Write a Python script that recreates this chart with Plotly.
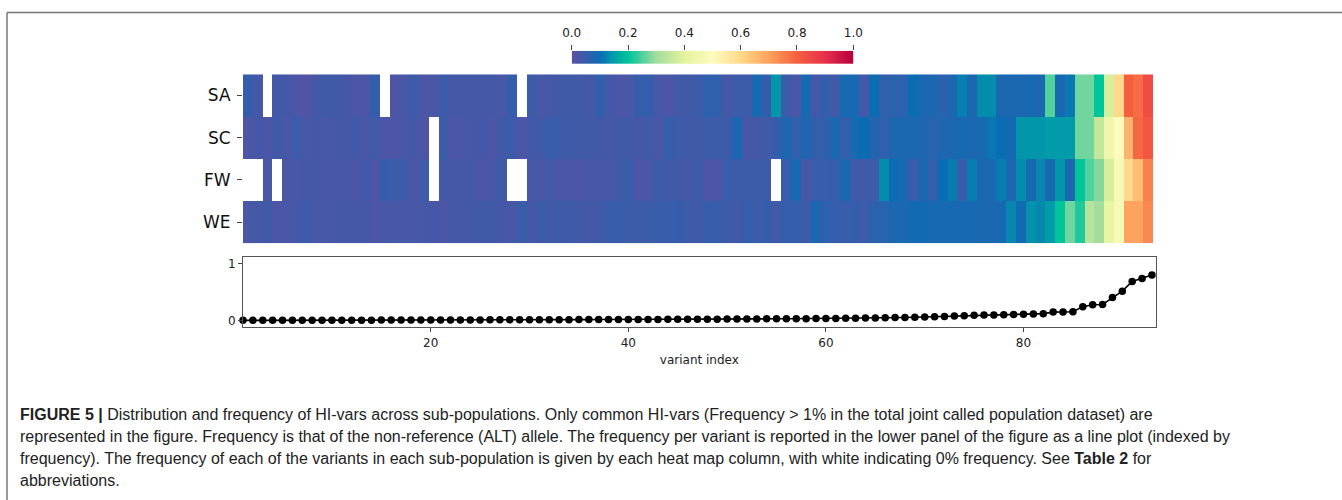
import numpy as np
import plotly.graph_objects as go

# ---------------- data ----------------
populations = ["SA", "SC", "FW", "WE"]
variant_index = list(range(1, 94))

freq_SA = [0.05, 0.03, None, 0.03, 0.03, 0.02, 0.015, 0.03, 0.035, 0.035, 0.03, 0.02, 0.02, 0.05, None, 0.02,
           0.025, 0.04, 0.02, 0.025, 0.04, 0.03, 0.03, 0.03,
           0.03, 0.03, 0.025, 0.05, None, 0.04, 0.025, 0.03, 0.035, 0.035, 0.035, 0.03, 0.055, 0.03, 0.02, 0.025,
           0.05, 0.05, 0.025, 0.02, 0.035, 0.035, 0.04, 0.06, 0.055,
           0.03, 0.04, 0.04, 0.085, 0.05, 0.14, 0.04, 0.025, 0.085, 0.03, 0.05, 0.035, 0.085, 0.085, 0.03, 0.1,
           0.055, 0.06, 0.06, 0.1, 0.08, 0.08, 0.06, 0.08,
           0.12, 0.08, 0.13, 0.13, 0.08, 0.08, 0.08, 0.085, 0.08, 0.25, 0.085, 0.11, 0.27, 0.27, 0.2, 0.38,
           0.6, 0.8, 0.78, 0.84]
freq_SC = [0.02, 0.03, 0.02, 0.035, 0.025, 0.04, 0.025, 0.03, 0.025, 0.03, 0.03, 0.035, 0.025, 0.035, 0.02, 0.02,
           0.025, 0.03, 0.02, None, 0.04, 0.02, 0.025, 0.03,
           0.03, 0.02, 0.035, 0.04, 0.02, 0.035, 0.035, 0.045, 0.04, 0.035, 0.035, 0.035, 0.03, 0.03, 0.035, 0.035,
           0.03, 0.035, 0.025, 0.05, 0.04, 0.035, 0.035, 0.04, 0.04,
           0.04, 0.08, 0.03, 0.03, 0.035, 0.05, 0.075, 0.055, 0.075, 0.05, 0.055, 0.08, 0.05, 0.085, 0.1, 0.07,
           0.055, 0.075, 0.08, 0.08, 0.075, 0.065, 0.075, 0.08,
           0.085, 0.08, 0.085, 0.11, 0.1, 0.09, 0.14, 0.14, 0.14, 0.145, 0.145, 0.145, 0.27, 0.27, 0.35, 0.45,
           0.5, 0.67, 0.79, 0.82]
freq_FW = [None, None, 0.025, None, 0.025, 0.025, 0.03, 0.03, 0.025, 0.025, 0.025, 0.02, 0.03, 0.02, 0.05, 0.04,
           0.04, 0.02, 0.04, None, 0.03, 0.03, 0.03, 0.03,
           0.02, 0.025, 0.035, None, None, 0.025, 0.025, 0.03, 0.02, 0.025, 0.02, 0.025, 0.025, 0.025, 0.035, 0.045,
           0.02, 0.025, 0.04, 0.035, 0.035, 0.03, 0.04, 0.02, 0.02,
           0.045, 0.04, 0.04, 0.04, 0.04, None, 0.045, 0.085, 0.025, 0.045, 0.045, 0.05, 0.08, 0.04, 0.035, 0.04,
           0.13, 0.1, 0.085, 0.045, 0.08, 0.055, 0.1, 0.115,
           0.045, 0.115, 0.08, 0.08, 0.115, 0.075, 0.13, 0.085, 0.125, 0.085, 0.14, 0.08, 0.2, 0.25, 0.28, 0.38,
           0.48, 0.6, 0.65, 0.75]
freq_WE = [0.025, 0.03, 0.035, 0.02, 0.025, 0.03, 0.04, 0.025, 0.025, 0.03, 0.03, 0.03, 0.03, 0.02, 0.025, 0.025,
           0.025, 0.025, 0.03, 0.03, 0.02, 0.03, 0.03, 0.03,
           0.035, 0.035, 0.03, 0.025, 0.045, 0.03, 0.04, 0.035, 0.04, 0.035, 0.035, 0.03, 0.035, 0.045, 0.045, 0.04,
           0.04, 0.04, 0.045, 0.045, 0.05, 0.04, 0.035, 0.05, 0.045,
           0.04, 0.035, 0.05, 0.04, 0.05, 0.035, 0.05, 0.05, 0.04, 0.08, 0.06, 0.05, 0.045, 0.05, 0.04, 0.06,
           0.065, 0.08, 0.08, 0.09, 0.09, 0.085, 0.085, 0.085,
           0.085, 0.085, 0.08, 0.08, 0.085, 0.125, 0.09, 0.135, 0.125, 0.145, 0.2, 0.27, 0.22, 0.33, 0.3, 0.42,
           0.48, 0.7, 0.7, 0.74]

total_freq = [0.011, 0.011, 0.012, 0.012, 0.012, 0.013, 0.013, 0.013, 0.014, 0.014,
              0.014, 0.015, 0.015, 0.015, 0.016, 0.016, 0.016, 0.017, 0.017, 0.017,
              0.018, 0.018, 0.018, 0.019, 0.019, 0.020, 0.020, 0.020, 0.021, 0.021,
              0.022, 0.022, 0.023, 0.023, 0.024, 0.024, 0.025, 0.025, 0.026, 0.026,
              0.027, 0.027, 0.028, 0.029, 0.029, 0.030, 0.031, 0.031, 0.032, 0.033,
              0.034, 0.035, 0.036, 0.037, 0.038, 0.039, 0.040, 0.041, 0.042, 0.043,
              0.045, 0.047, 0.049, 0.051, 0.053, 0.056, 0.059, 0.062, 0.066, 0.070,
              0.074, 0.080, 0.087, 0.093, 0.099, 0.104, 0.106, 0.110, 0.115, 0.117,
              0.121, 0.128, 0.155, 0.158, 0.160, 0.25, 0.283, 0.287, 0.41, 0.52,
              0.69, 0.74, 0.80]

x_ticks = [20, 40, 60, 80]
y_ticks = [0, 1]
cbar_ticks = [0.0, 0.2, 0.4, 0.6, 0.8, 1.0]
cbar_ticktext = ["0.0", "0.2", "0.4", "0.6", "0.8", "1.0"]

colorscale = [
    [0.0, "#5e4fa2"], [0.1, "#0a6db4"], [0.15, "#00a0a8"], [0.2, "#00c49a"],
    [0.3, "#a2dd9e"], [0.4, "#e4f39c"], [0.5, "#fcfbbd"], [0.6, "#fed98a"],
    [0.7, "#fca35d"], [0.8, "#f4603f"], [0.9, "#e8304a"], [1.0, "#b5003e"],
]

caption_lines = [
    "<b>FIGURE 5 |</b> Distribution and frequency of HI-vars across sub-populations. Only common HI-vars (Frequency &gt; 1% in the total joint called population dataset) are",
    "represented in the figure. Frequency is that of the non-reference (ALT) allele. The frequency per variant is reported in the lower panel of the figure as a line plot (indexed by",
    "frequency). The frequency of each of the variants in each sub-population is given by each heat map column, with white indicating 0% frequency. See <b>Table 2</b> for",
    "abbreviations.",
]

# ---------------- figure ----------------
W, H = 1342, 500
FONT = "DejaVu Sans"

fig = go.Figure()

fig.add_trace(go.Heatmap(
    z=[freq_SA, freq_SC, freq_FW, freq_WE],
    x=variant_index, y=populations,
    colorscale=colorscale, zmin=0, zmax=1, showscale=False,
    hoverongaps=False, xaxis="x", yaxis="y",
))

fig.add_trace(go.Scatter(
    x=variant_index, y=total_freq, mode="lines+markers",
    line=dict(color="black", width=1.6),
    marker=dict(color="black", size=7.5),
    xaxis="x2", yaxis="y2", showlegend=False, cliponaxis=False,
))

# colour-bar swatch (gradient strip on its own axis)
n_sw = 256
sw = np.linspace(0, 1, n_sw)
fig.add_trace(go.Heatmap(
    z=[sw.tolist()], x0=0.5 / n_sw, dx=1.0 / n_sw, y=[0],
    colorscale=colorscale, zmin=0, zmax=1, showscale=False,
    xaxis="x3", yaxis="y3", hoverinfo="skip",
))

def px_x(p):
    return p / W

def px_y(p):
    return 1 - p / H

axis_font = dict(family=FONT, size=12, color="#222")

fig.update_layout(
    width=W, height=H,
    margin=dict(l=0, r=0, t=0, b=0, autoexpand=False),
    paper_bgcolor="white", plot_bgcolor="white",
    showlegend=False,
    xaxis=dict(domain=[px_x(243), px_x(1153)], range=[0.5, 93.5], anchor="y",
               showgrid=False, zeroline=False, showticklabels=False, ticks=""),
    yaxis=dict(domain=[px_y(243.3), px_y(74.3)], anchor="x", autorange="reversed",
               showgrid=False, zeroline=False, ticks="outside", ticklen=5, tickwidth=1,
               ticklabelstandoff=3,
               tickcolor="#444", tickfont=dict(family=FONT, size=17, color="#111")),
    xaxis2=dict(domain=[px_x(243), px_x(1155.7)], range=[1, 93.38], anchor="y2",
                tickvals=x_ticks, ticks="outside", ticklen=4, tickcolor="#444",
                showline=True, mirror=True, linecolor="#555", linewidth=1,
                showgrid=False, zeroline=False, tickfont=axis_font,
                title=dict(text="variant index", font=axis_font, standoff=6)),
    yaxis2=dict(domain=[px_y(327.3), px_y(256.7)], range=[-0.11, 1.12], anchor="x2",
                tickvals=y_ticks, ticks="outside", ticklen=4, tickcolor="#444",
                showline=True, mirror=True, linecolor="#555", linewidth=1,
                showgrid=False, zeroline=False, tickfont=axis_font),
    xaxis3=dict(domain=[px_x(571.7), px_x(853.3)], range=[0, 1], anchor="y3", side="top",
                tickvals=cbar_ticks, ticktext=cbar_ticktext, ticks="outside", ticklen=5,
                ticklabelstandoff=3,
                tickcolor="#444", showgrid=False, zeroline=False, showline=False,
                tickfont=dict(family=FONT, size=12, color="#222")),
    yaxis3=dict(domain=[px_y(64), px_y(50.7)], range=[-0.5, 0.5], anchor="x3",
                visible=False),
)

# figure frame (top and left rule)
fig.add_shape(type="line", xref="paper", yref="paper", x0=px_x(7), x1=1, y0=px_y(12.5), y1=px_y(12.5),
              line=dict(color="#777", width=1.5))
fig.add_shape(type="line", xref="paper", yref="paper", x0=px_x(7), x1=px_x(7), y0=0, y1=px_y(12.5),
              line=dict(color="#777", width=1.5))

cap_font = dict(family="Liberation Sans Narrow, Liberation Sans, Arial, sans-serif", size=16, color="#222")
for i, line in enumerate(caption_lines):
    fig.add_annotation(text=line, xref="paper", yref="paper", x=px_x(18), y=px_y(414 + 22.3 * i),
                       xanchor="left", yanchor="middle", showarrow=False, align="left", font=cap_font)

fig.write_html("out.html")
